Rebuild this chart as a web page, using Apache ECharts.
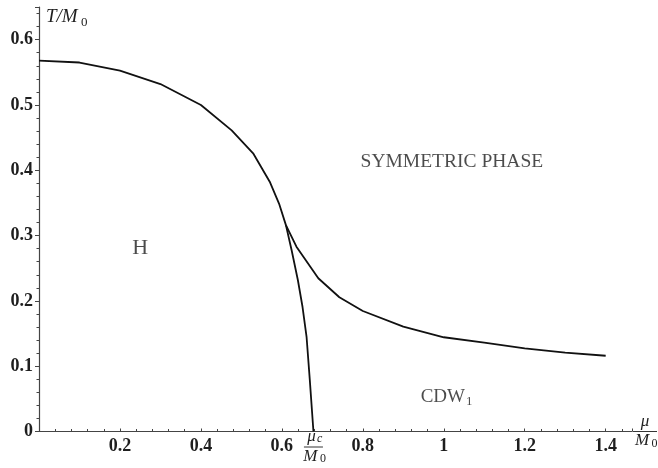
<!DOCTYPE html>
<html>
<head>
<meta charset="utf-8">
<script src="https://cdn.jsdelivr.net/npm/echarts@6/dist/echarts.min.js"></script>
<style>
  html, body { margin: 0; padding: 0; background: #fff; }
  #chart { width: 658px; height: 468px; }
</style>
</head>
<body>
<div id="chart"></div>
<script>
// Phase boundary of the H phase: T/M0 against mu/M0, down to mu_c on the axis
const hMu = [0, 0.1, 0.2, 0.3, 0.4, 0.476, 0.529, 0.57, 0.593, 0.61, 0.624, 0.6395, 0.651, 0.661, 0.669, 0.678];
const hT  = [0.568, 0.565, 0.5525, 0.532, 0.500, 0.461, 0.426, 0.3825, 0.349, 0.316, 0.278, 0.232, 0.191, 0.145, 0.079, 0];

// Boundary between the symmetric phase and CDW1
const cMu = [0.61, 0.636, 0.69, 0.742, 0.8, 0.9, 1.0, 1.1, 1.2, 1.3, 1.4];
const cT  = [0.316, 0.283, 0.2346, 0.2055, 0.1845, 0.1605, 0.1443, 0.136, 0.1274, 0.1207, 0.116];

// Tick labels
const xTicks = [0.2, 0.4, 0.6, 0.8, 1, 1.2, 1.4];
const yTicks = [0, 0.1, 0.2, 0.3, 0.4, 0.5, 0.6];

// Critical chemical potential marked on the axis
const muC = 0.678;

// Region labels [mu, T, text, font size]
const regionLabels = [
  [0.25, 0.28, 'H', 22],
  [1.02, 0.413, 'SYMMETRIC PHASE', 19.5],
  [1.007, 0.053, 'CDW', 19]
];

const SERIF = '"Liberation Serif", "DejaVu Serif", serif';
const INK = '#111';
const AXIS = '#444';
const TEXT = '#1e1e1e';

const chart = echarts.init(document.getElementById('chart'), null, { renderer: 'canvas' });

const pair = (xs, ys) => xs.map((x, i) => [x, ys[i]]);

const tickLabelStyle = {
  fontFamily: SERIF,
  fontWeight: 'bold',
  fontSize: 18,
  color: TEXT
};

chart.setOption({
  animation: false,
  backgroundColor: '#fff',
  grid: { left: 39, right: 26, top: 7, bottom: 36.5, containLabel: false },
  xAxis: {
    type: 'value',
    min: 0,
    max: 1.465,
    interval: 0.2,
    splitLine: { show: false },
    axisLine: { show: true, onZero: false, lineStyle: { color: AXIS, width: 1.2 } },
    axisTick: { show: true, inside: true, length: 3, lineStyle: { color: AXIS } },
    minorTick: { show: true, splitNumber: 5, length: 2.5, lineStyle: { color: AXIS } },
    axisLabel: {
      ...tickLabelStyle,
      margin: 6,
      showMaxLabel: false,
      formatter: v => {
        const hit = xTicks.find(t => Math.abs(t - v) < 1e-6);
        return hit === undefined ? '' : String(hit);
      }
    }
  },
  yAxis: {
    type: 'value',
    min: 0,
    max: 0.65,
    interval: 0.1,
    splitLine: { show: false },
    axisLine: { show: true, onZero: false, lineStyle: { color: AXIS, width: 1.2 } },
    axisTick: { show: true, inside: false, length: 4, lineStyle: { color: AXIS } },
    minorTick: { show: true, splitNumber: 5, length: 2.5, lineStyle: { color: AXIS } },
    axisLabel: {
      ...tickLabelStyle,
      margin: 6,
      showMaxLabel: false,
      formatter: v => {
        const hit = yTicks.find(t => Math.abs(t - v) < 1e-6);
        return hit === undefined ? '' : String(hit);
      }
    }
  },
  series: [
    {
      type: 'line',
      data: pair(hMu, hT),
      showSymbol: false,
      smooth: false,
      lineStyle: { color: INK, width: 1.8 },
      z: 3
    },
    {
      type: 'line',
      data: pair(cMu, cT),
      showSymbol: false,
      smooth: false,
      lineStyle: { color: INK, width: 1.8 },
      z: 3
    },
    {
      type: 'scatter',
      data: regionLabels.map(r => ({
        value: [r[0], r[1]],
        name: r[2],
        label: { fontSize: r[3] }
      })),
      symbolSize: 0,
      silent: true,
      label: {
        show: true,
        position: 'inside',
        fontFamily: SERIF,
        color: TEXT,
        formatter: p => p.name === 'CDW' ? '{m|CDW}{s|1}' : p.name,
        rich: {
          m: { fontFamily: SERIF, fontSize: 19, color: TEXT },
          s: { fontFamily: SERIF, fontSize: 13, color: TEXT, padding: [9, 0, 0, 1] }
        }
      }
    }
  ]
});

// Axis titles and the mu_c fraction, placed through the chart's own scales
function fraction(cx, barY, top, halfWidth) {
  return [
    {
      type: 'text',
      style: {
        x: cx, y: barY - 1.5, text: top, textAlign: 'center', textVerticalAlign: 'bottom',
        font: 'italic 17px ' + SERIF, fill: TEXT
      }
    },
    {
      type: 'line',
      shape: { x1: cx - halfWidth, y1: barY, x2: cx + halfWidth, y2: barY },
      style: { stroke: TEXT, lineWidth: 0.9 }
    },
    {
      type: 'text',
      style: {
        x: cx - 3, y: barY + 1, text: 'M', textAlign: 'center', textVerticalAlign: 'top',
        font: 'italic 17px ' + SERIF, fill: TEXT
      }
    },
    {
      type: 'text',
      style: {
        x: cx + 6.5, y: barY + 6, text: '0', textAlign: 'left', textVerticalAlign: 'top',
        font: '12px ' + SERIF, fill: TEXT
      }
    }
  ];
}

const axisY = chart.convertToPixel({ yAxisIndex: 0 }, 0);
const muCx = chart.convertToPixel({ xAxisIndex: 0 }, muC);
const topY = chart.convertToPixel({ yAxisIndex: 0 }, 0.65);
const leftX = chart.convertToPixel({ xAxisIndex: 0 }, 0);

const muCParts = fraction(muCx, axisY + 15.5, '', 9.5);
// numerator mu with subscript c
muCParts[0] = {
  type: 'text',
  style: {
    x: muCx - 2, y: axisY + 14, text: 'μ', textAlign: 'center', textVerticalAlign: 'bottom',
    font: 'italic 17px ' + SERIF, fill: TEXT
  }
};
muCParts.push({
  type: 'text',
  style: {
    x: muCx + 3.5, y: axisY + 13.5, text: 'c', textAlign: 'left', textVerticalAlign: 'bottom',
    font: 'italic 12px ' + SERIF, fill: TEXT
  }
});

chart.setOption({
  graphic: [
    // T/M0 at the top of the vertical axis
    {
      type: 'text',
      style: {
        x: leftX + 7, y: topY + 10, text: 'T/M', textAlign: 'left', textVerticalAlign: 'middle',
        font: 'italic 19px ' + SERIF, fill: TEXT
      }
    },
    {
      type: 'text',
      style: {
        x: leftX + 42, y: topY + 16, text: '0', textAlign: 'left', textVerticalAlign: 'middle',
        font: '13px ' + SERIF, fill: TEXT
      }
    },
    // mu/M0 at the end of the horizontal axis
    ...fraction(645, axisY, 'μ', 12),
    // mu_c/M0 under the point where the H boundary meets the axis
    ...muCParts
  ]
});
</script>
</body>
</html>
